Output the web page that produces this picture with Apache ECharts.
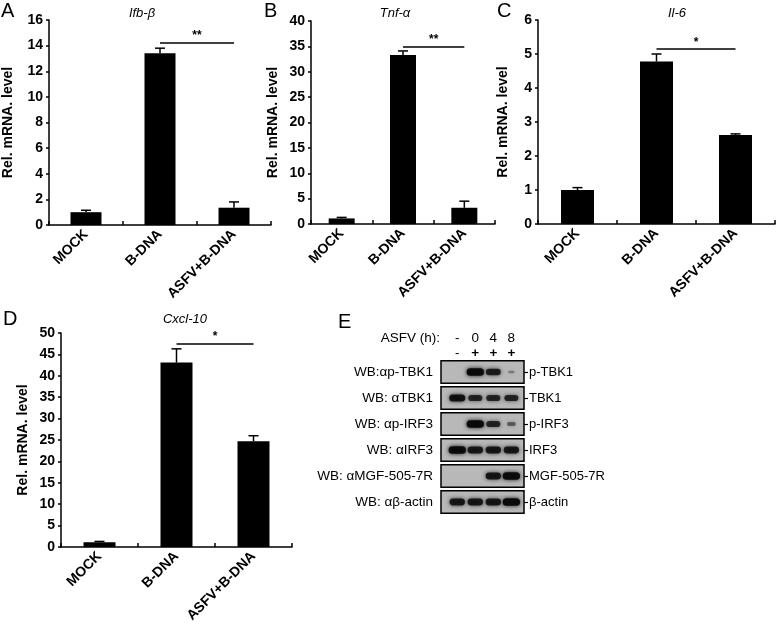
<!DOCTYPE html>
<html><head><meta charset="utf-8">
<script src="https://cdn.jsdelivr.net/npm/echarts/dist/echarts.min.js"></script>
<style>html,body{margin:0;padding:0;background:#fff}#c{width:777px;height:625px}</style>
</head><body><div id="c"></div>
<script>
// ---------- data ----------
const categories = ['MOCK', 'B-DNA', 'ASFV+B-DNA'];

const ifbValues = [1.0, 13.4, 1.35];
const ifbErrors = [0.15, 0.4, 0.45];
const ifbTicks = [0, 2, 4, 6, 8, 10, 12, 14, 16];
const ifbSig = [1, 2, 14.2, '**'];

const tnfValues = [1.1, 33.3, 3.2];
const tnfErrors = [0.2, 0.8, 1.3];
const tnfTicks = [0, 5, 10, 15, 20, 25, 30, 35, 40];
const tnfSig = [1, 2, 34.9, '**'];

const il6Values = [1.0, 4.78, 2.62];
const il6Errors = [0.07, 0.22, 0.03];
const il6Ticks = [0, 1, 2, 3, 4, 5, 6];
const il6Sig = [1, 2, 5.14, '*'];

const cxclValues = [1.1, 43.1, 24.7];
const cxclErrors = [0.2, 3.2, 1.3];
const cxclTicks = [0, 5, 10, 15, 20, 25, 30, 35, 40, 45, 50];
const cxclSig = [1, 2, 47.5, '*'];

const headerRows = ['ASFV (h):', 'B-DNA:'];
const asfvHours = ['-', '0', '4', '8'];
const bDna = ['-', '+', '+', '+'];
const blotAntibodies = ['WB:\u03b1p-TBK1', 'WB: \u03b1TBK1', 'WB: \u03b1p-IRF3', 'WB: \u03b1IRF3', 'WB: \u03b1MGF-505-7R', 'WB: \u03b1\u03b2-actin'];
const blotProteins = ['p-TBK1', 'TBK1', 'p-IRF3', 'IRF3', 'MGF-505-7R', '\u03b2-actin'];
const bandIntensity = [
  [0.0, 0.95, 0.75, 0.1],
  [0.85, 0.7, 0.7, 0.7],
  [0.0, 0.95, 0.7, 0.3],
  [0.95, 0.8, 0.8, 0.8],
  [0.0, 0.0, 0.8, 0.95],
  [0.8, 0.8, 0.8, 0.95]
];

// ---------- layout / style ----------
const FONT = 'Liberation Sans, Arial, Helvetica, sans-serif';
const BLACK = '#000';
const panels = [
  { values: ifbValues, errors: ifbErrors, ticks: ifbTicks, sig: ifbSig, grid: { left: 49, top: 20, width: 222, height: 205 }, barWidth: 31, nameGap: 34 },
  { values: tnfValues, errors: tnfErrors, ticks: tnfTicks, sig: tnfSig, grid: { left: 311, top: 21, width: 184, height: 203 }, barWidth: 26, nameGap: 31 },
  { values: il6Values, errors: il6Errors, ticks: il6Ticks, sig: il6Sig, grid: { left: 538, top: 20, width: 237, height: 204 }, barWidth: 33, nameGap: 28 },
  { values: cxclValues, errors: cxclErrors, ticks: cxclTicks, sig: cxclSig, grid: { left: 61, top: 333, width: 231, height: 214 }, barWidth: 32, nameGap: 31 }
];

const grid = [], xAxis = [], yAxis = [], series = [];

panels.forEach((p, i) => {
  grid.push(Object.assign({ outerBoundsMode: 'none', containLabel: false }, p.grid));
  xAxis.push({
    type: 'category', gridIndex: i, data: categories,
    axisLine: { show: true, lineStyle: { color: BLACK, width: 1.5 } },
    axisTick: { show: true, inside: true, length: 4, interval: 0, lineStyle: { color: BLACK, width: 1.5 } },
    axisLabel: { rotate: 45, interval: 0, color: BLACK, fontWeight: 'bold', fontSize: 14, fontFamily: FONT, margin: 7 },
    splitLine: { show: false }
  });
  const t = p.ticks;
  yAxis.push({
    type: 'value', gridIndex: i, min: t[0], max: t[t.length - 1], interval: t[1] - t[0],
    name: 'Rel. mRNA. level', nameLocation: 'middle', nameGap: p.nameGap,
    nameTextStyle: { color: BLACK, fontWeight: 'bold', fontSize: 14, fontFamily: FONT },
    axisLine: { show: true, lineStyle: { color: BLACK, width: 1.5 } },
    axisTick: { show: true, length: 3, lineStyle: { color: BLACK, width: 1.5 } },
    axisLabel: { color: BLACK, fontWeight: 'bold', fontSize: 14, fontFamily: FONT, margin: 6 },
    splitLine: { show: false }
  });
  series.push({
    type: 'bar', xAxisIndex: i, yAxisIndex: i, data: p.values, barWidth: p.barWidth,
    itemStyle: { color: BLACK }, silent: true,
    markLine: {
      silent: true, symbol: 'none', animation: false,
      lineStyle: { color: BLACK, width: 1.5, type: 'solid' },
      label: { show: true, position: 'middle', formatter: p.sig[3], color: BLACK, fontWeight: 'bold', fontSize: 12, fontFamily: FONT, distance: 1 },
      data: [[{ coord: [categories[p.sig[0]], p.sig[2]] }, { coord: [categories[p.sig[1]], p.sig[2]] }]]
    }
  });
  series.push({
    type: 'custom', xAxisIndex: i, yAxisIndex: i, z: 3, silent: true,
    data: p.values.map((v, k) => [k, v, v + p.errors[k]]),
    renderItem: (params, api) => {
      const a = api.coord([api.value(0), api.value(1)]);
      const b = api.coord([api.value(0), api.value(2)]);
      return { type: 'group', children: [
        { type: 'line', shape: { x1: a[0], y1: a[1], x2: b[0], y2: b[1] }, style: { stroke: BLACK, lineWidth: 1.5 } },
        { type: 'line', shape: { x1: b[0] - 5, y1: b[1], x2: b[0] + 5, y2: b[1] }, style: { stroke: BLACK, lineWidth: 1.5 } }
      ] };
    }
  });
});

// ---------- blot panel E ----------
const LANE_MIN = -0.9, LANE_MAX = 3.7;
grid.push({ left: 441, top: 331, width: 83, height: 30, outerBoundsMode: 'none', containLabel: false });
xAxis.push({ type: 'value', gridIndex: 4, min: LANE_MIN, max: LANE_MAX, show: false });
yAxis.push({
  type: 'category', gridIndex: 4, data: headerRows, inverse: true,
  axisLine: { show: false }, axisTick: { show: false }, splitLine: { show: false },
  axisLabel: { color: BLACK, fontSize: 13.5, fontFamily: FONT, margin: 1 }
});
const headerData = [];
asfvHours.forEach((s, k) => headerData.push([k, 0, s]));
bDna.forEach((s, k) => headerData.push([k, 1, s]));
series.push({
  type: 'custom', xAxisIndex: 4, yAxisIndex: 4, silent: true,
  data: headerData.map(d => [d[0], d[1]]),
  renderItem: (params, api) => {
    const c = api.coord([api.value(0), api.value(1)]);
    const txt = headerData[params.dataIndex][2];
    return { type: 'text', x: c[0], y: c[1], style: { text: txt, fill: BLACK, font: (txt === '+' ? 'bold ' : '') + '13.5px ' + FONT, textAlign: 'center', textVerticalAlign: 'middle' } };
  }
});

grid.push({ left: 441, top: 359, width: 83, height: 156, outerBoundsMode: 'none', containLabel: false });
xAxis.push({ type: 'value', gridIndex: 5, min: LANE_MIN, max: LANE_MAX, show: false });
yAxis.push({
  type: 'category', gridIndex: 5, data: blotAntibodies, inverse: true, position: 'left',
  axisLine: { show: false }, axisTick: { show: false }, splitLine: { show: false },
  axisLabel: { color: BLACK, fontSize: 13.5, fontFamily: FONT, margin: 8 }
});
yAxis.push({
  type: 'category', gridIndex: 5, data: blotProteins, inverse: true, position: 'right',
  axisLine: { show: false }, splitLine: { show: false },
  axisTick: { show: true, alignWithLabel: true, length: 4, lineStyle: { color: BLACK, width: 1.2 } },
  axisLabel: { color: BLACK, fontSize: 13, fontFamily: FONT, margin: 5 }
});
series.push({
  type: 'custom', xAxisIndex: 5, yAxisIndex: 6, silent: true, z: 1,
  data: blotProteins.map((_, r) => [0, r]),
  renderItem: (params, api) => {
    const cs = params.coordSys;
    const cy = api.coord([0, api.value(1)])[1];
    const h = api.size([0, 1])[1] * 0.86;
    return { type: 'rect', shape: { x: cs.x, y: cy - h / 2, width: cs.width, height: h },
      style: { fill: '#b8b8b8', stroke: BLACK, lineWidth: 1.5 } };
  }
});
const bandData = [];
bandIntensity.forEach((row, r) => row.forEach((v, k) => bandData.push([k, r, v])));
series.push({
  type: 'custom', xAxisIndex: 5, yAxisIndex: 6, silent: true, z: 2,
  data: bandData,
  renderItem: (params, api) => {
    const v = api.value(2);
    if (v < 0.05) return null;
    const c = api.coord([api.value(0), api.value(1)]);
    const w = 5 + 13 * v, h = 2 + 6 * v;
    const col = 'rgba(8,8,8,' + (0.25 + 0.75 * v).toFixed(2) + ')';
    return { type: 'rect', shape: { x: c[0] - w / 2, y: c[1] - h / 2, width: w, height: h, r: h / 2 },
      style: { fill: col, shadowBlur: 4, shadowColor: col } };
  }
});

// ---------- titles ----------
const letterStyle = { fontSize: 20, fontWeight: 'normal', color: BLACK, fontFamily: FONT };
const geneStyle = { fontSize: 13, fontWeight: 'normal', fontStyle: 'italic', color: BLACK, fontFamily: FONT };
const title = [
  { text: 'A', left: 1, top: 1, padding: 0, textStyle: letterStyle },
  { text: 'B', left: 264, top: 1, padding: 0, textStyle: letterStyle },
  { text: 'C', left: 497, top: 1, padding: 0, textStyle: letterStyle },
  { text: 'D', left: 3, top: 309, padding: 0, textStyle: letterStyle },
  { text: 'E', left: 338, top: 312, padding: 0, textStyle: letterStyle },
  { text: 'Ifb-\u03b2', left: 142, top: 7, padding: 0, textAlign: 'center', textStyle: geneStyle },
  { text: 'Tnf-\u03b1', left: 395, top: 7, padding: 0, textAlign: 'center', textStyle: geneStyle },
  { text: 'Il-6', left: 677, top: 7, padding: 0, textAlign: 'center', textStyle: geneStyle },
  { text: 'Cxcl-10', left: 185, top: 313, padding: 0, textAlign: 'center', textStyle: geneStyle }
];

const chart = echarts.init(document.getElementById('c'), null, { renderer: 'canvas' });
chart.setOption({ animation: false, backgroundColor: '#fff', title, grid, xAxis, yAxis, series, tooltip: { show: false } });
</script>
</body></html>
